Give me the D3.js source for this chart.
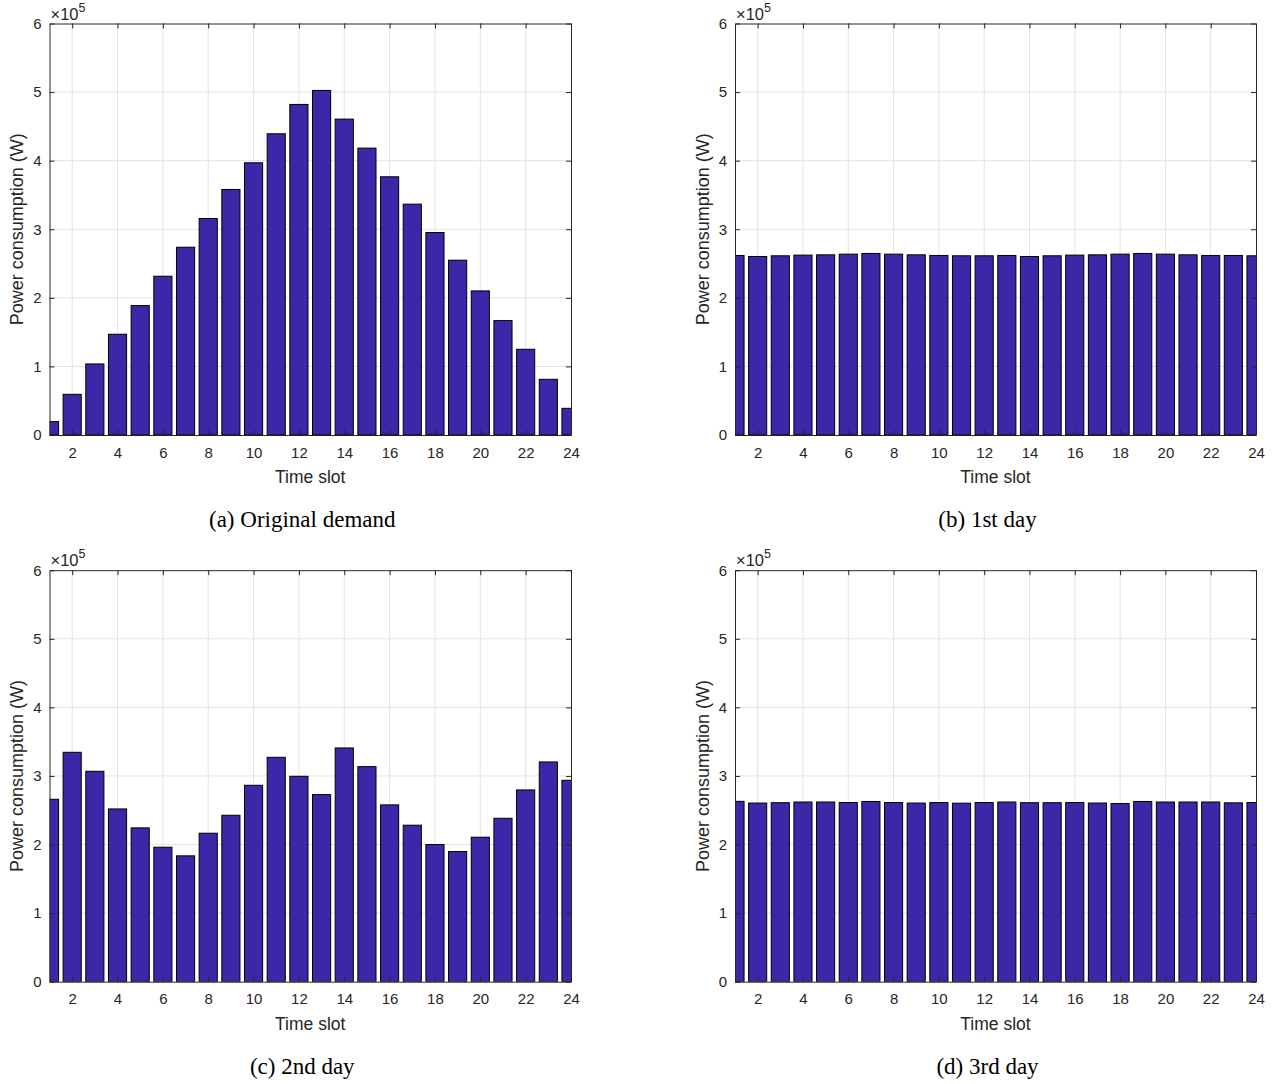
<!DOCTYPE html>
<html>
<head>
<meta charset="utf-8">
<script src="https://cdn.jsdelivr.net/npm/d3@7"></script>
<style>
  html, body { margin: 0; padding: 0; background: #fff; }
  svg { display: block; }
</style>
</head>
<body>
<svg id="chart" width="1281" height="1084"></svg>
<script>
// ---- data (values in units of 1e5 W) ----
const timeSlots = d3.range(1, 25);
const originalDemand = [0.195, 0.593, 1.036, 1.469, 1.887, 2.315, 2.738, 3.157, 3.580, 3.969, 4.392, 4.820,
                        5.024, 4.606, 4.183, 3.765, 3.366, 2.952, 2.549, 2.101, 1.668, 1.250, 0.812, 0.389];
const day1 = [2.618, 2.603, 2.613, 2.623, 2.627, 2.637, 2.647, 2.637, 2.627, 2.618, 2.613, 2.613,
              2.618, 2.603, 2.613, 2.623, 2.627, 2.637, 2.647, 2.637, 2.627, 2.618, 2.618, 2.613];
const day2 = [2.660, 3.345, 3.068, 2.519, 2.243, 1.961, 1.835, 2.165, 2.427, 2.864, 3.272, 2.995,
              2.728, 3.408, 3.136, 2.578, 2.282, 2.000, 1.898, 2.107, 2.383, 2.796, 3.204, 2.937];
const day3 = [2.630, 2.605, 2.610, 2.620, 2.620, 2.612, 2.628, 2.612, 2.605, 2.612, 2.603, 2.612,
              2.620, 2.610, 2.610, 2.612, 2.605, 2.598, 2.628, 2.620, 2.620, 2.620, 2.608, 2.612];
const xTicks = [2, 4, 6, 8, 10, 12, 14, 16, 18, 20, 22, 24];
const yTicks = [0, 1, 2, 3, 4, 5, 6];
const captions = ["(a) Original demand", "(b) 1st day", "(c) 2nd day", "(d) 3rd day"];
const seriesList = [originalDemand, day1, day2, day3];

// ---- layout ----
const panels = [
  {x0: 49.5, x1: 571, y0: 23.5, y1: 435},
  {x0: 735, x1: 1256, y0: 23.5, y1: 435},
  {x0: 49.5, x1: 571, y0: 570.2, y1: 981.7},
  {x0: 735, x1: 1256, y0: 570.2, y1: 981.7}
];
const axisColor = "#262626";
const gridColor = "#e3e3e3";
const barColor = "#3d27a9";
const sans = "'Liberation Sans', Arial, Helvetica, sans-serif";
const serif = "'Liberation Serif', 'Times New Roman', serif";

const svg = d3.select("#chart");

panels.forEach((p, i) => {
  const data = seriesList[i];
  const x = d3.scaleLinear().domain([1, 24]).range([p.x0, p.x1]);
  const y = d3.scaleLinear().domain([0, 6]).range([p.y1, p.y0]);
  const unit = x(2) - x(1);
  const bw = unit * 0.8;

  const g = svg.append("g");
  const clipId = "clip" + i;
  g.append("clipPath").attr("id", clipId)
    .append("rect").attr("x", p.x0).attr("y", p.y0)
    .attr("width", p.x1 - p.x0).attr("height", p.y1 - p.y0);

  // grid
  const grid = g.append("g");
  grid.selectAll("line.gx").data(xTicks.filter(t => t < 24)).enter().append("line")
    .attr("x1", d => x(d)).attr("x2", d => x(d))
    .attr("y1", p.y0).attr("y2", p.y1)
    .attr("stroke", gridColor).attr("stroke-width", 1);
  grid.selectAll("line.gy").data(yTicks.filter(t => t > 0 && t < 6)).enter().append("line")
    .attr("x1", p.x0).attr("x2", p.x1)
    .attr("y1", d => y(d)).attr("y2", d => y(d))
    .attr("stroke", gridColor).attr("stroke-width", 1);

  // bars
  g.append("g").attr("clip-path", `url(#${clipId})`)
    .selectAll("rect").data(data).enter().append("rect")
    .attr("x", (d, k) => x(timeSlots[k]) - bw / 2)
    .attr("width", bw)
    .attr("y", d => y(d))
    .attr("height", d => y(0) - y(d))
    .attr("fill", barColor)
    .attr("stroke", "#000")
    .attr("stroke-width", 1);

  // axes with inward ticks (box)
  const tickLen = 5;
  const axB = d3.axisBottom(x).tickValues(xTicks).tickSizeInner(-tickLen).tickSizeOuter(0).tickPadding(12);
  const axT = d3.axisTop(x).tickValues(xTicks).tickSizeInner(-tickLen).tickSizeOuter(0).tickFormat("");
  const axL = d3.axisLeft(y).tickValues(yTicks).tickSizeInner(-tickLen).tickSizeOuter(0).tickPadding(8)
    .tickFormat(d3.format("d"));
  const axR = d3.axisRight(y).tickValues(yTicks).tickSizeInner(-tickLen).tickSizeOuter(0).tickFormat("");

  const style = sel => {
    sel.selectAll("path").attr("stroke", axisColor).attr("stroke-width", 1);
    sel.selectAll("line").attr("stroke", axisColor).attr("stroke-width", 1);
    sel.selectAll("text").attr("fill", axisColor).style("font-family", sans).style("font-size", "15px");
  };
  g.append("g").attr("transform", `translate(0,${p.y1})`).call(axB).call(style);
  g.append("g").attr("transform", `translate(0,${p.y0})`).call(axT).call(style);
  g.append("g").attr("transform", `translate(${p.x0},0)`).call(axL).call(style);
  g.append("g").attr("transform", `translate(${p.x1},0)`).call(axR).call(style);

  // exponent label
  const ex = g.append("text").attr("x", p.x0 + 1).attr("y", p.y0 - 4)
    .attr("fill", axisColor).style("font-family", sans).style("font-size", "16.5px");
  ex.append("tspan").text("\u00d710");
  ex.append("tspan").attr("dy", -8).style("font-size", "12.5px").text("5");

  // axis labels
  g.append("text").attr("x", (p.x0 + p.x1) / 2).attr("y", p.y1 + 48)
    .attr("text-anchor", "middle").attr("fill", axisColor)
    .style("font-family", sans).style("font-size", "17.5px").text("Time slot");
  g.append("text")
    .attr("transform", `translate(${p.x0 - 26.5},${(p.y0 + p.y1) / 2}) rotate(-90)`)
    .attr("text-anchor", "middle").attr("fill", axisColor)
    .style("font-family", sans).style("font-size", "18px").text("Power consumption (W)");

  // caption
  g.append("text").attr("x", (p.x0 + p.x1) / 2 - 8).attr("y", p.y1 + 92)
    .attr("text-anchor", "middle").attr("fill", "#000")
    .style("font-family", serif).style("font-size", "23px").text(captions[i]);
});
</script>
</body>
</html>
